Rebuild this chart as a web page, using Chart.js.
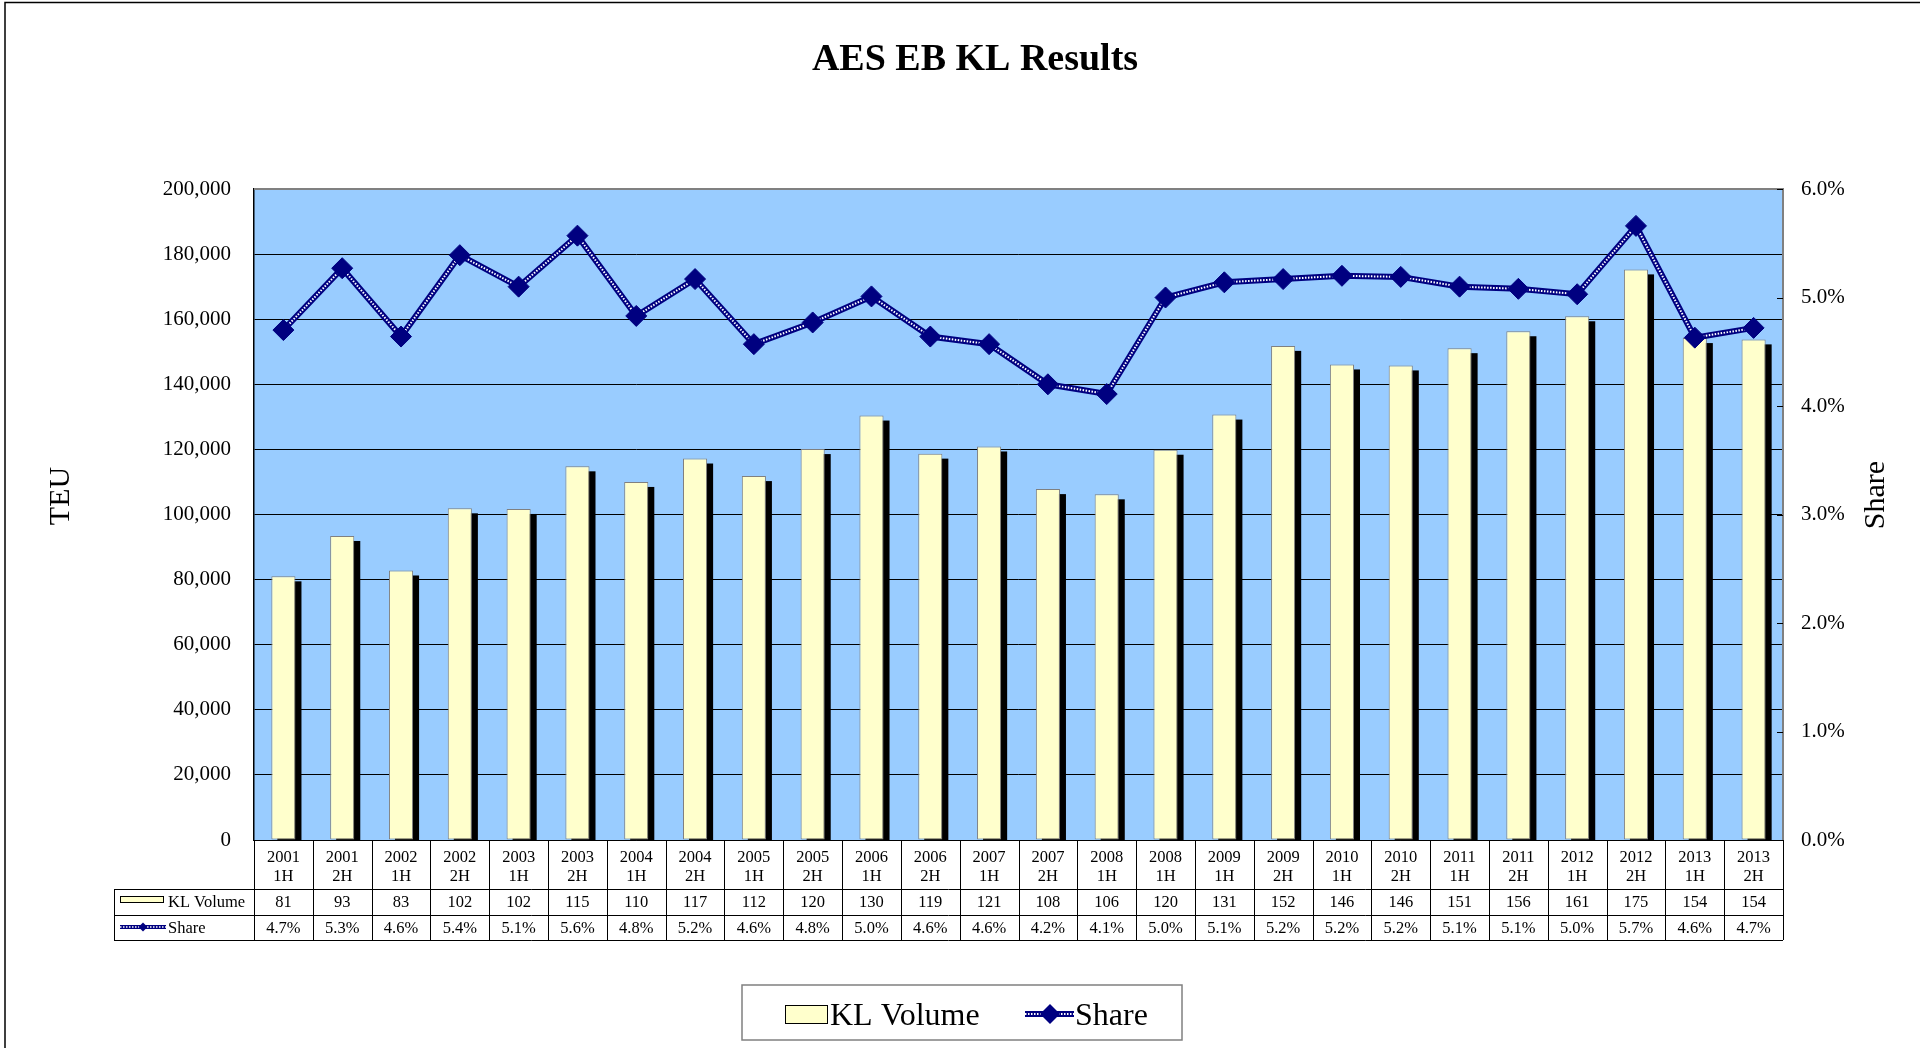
<!DOCTYPE html>
<html>
<head>
<meta charset="utf-8">
<title>AES EB KL Results</title>
<script src="https://cdn.jsdelivr.net/npm/chart.js@4.4.1/dist/chart.umd.min.js"></script>
<style>
  html, body { margin: 0; padding: 0; background: #fff; }
  #wrap { width: 1920px; height: 1048px; }
</style>
</head>
<body>
<div id="wrap"><canvas id="klChart" width="1920" height="1048"></canvas></div>
<script>
// half-year periods, exactly as printed in the data table
const periods = [
  ["2001", "1H"], ["2001", "2H"], ["2002", "1H"], ["2002", "2H"],
  ["2003", "1H"], ["2003", "2H"], ["2004", "1H"], ["2004", "2H"],
  ["2005", "1H"], ["2005", "2H"], ["2006", "1H"], ["2006", "2H"],
  ["2007", "1H"], ["2007", "2H"], ["2008", "1H"], ["2008", "1H"],
  ["2009", "1H"], ["2009", "2H"], ["2010", "1H"], ["2010", "2H"],
  ["2011", "1H"], ["2011", "2H"], ["2012", "1H"], ["2012", "2H"],
  ["2013", "1H"], ["2013", "2H"]
];

// KL volume in TEU (table shows thousands)
const klVolume = [
  81000, 93400, 82800, 101900, 101700, 114800, 110000, 117200, 111800, 120100,
  130400, 118700, 120900, 107800, 106200, 119900, 130700, 151800, 146100, 145800,
  151100, 156300, 160900, 175300, 154200, 153800
];

// share in percent (table shows one decimal)
const share = [
  4.70, 5.27, 4.64, 5.39, 5.10, 5.57, 4.83, 5.17, 4.57, 4.77,
  5.01, 4.64, 4.57, 4.20, 4.11, 5.00, 5.14, 5.17, 5.20, 5.19,
  5.10, 5.08, 5.03, 5.66, 4.63, 4.72
];

// axis ranges
const volumeAxis = { min: 0, max: 200000, step: 20000 };
const shareAxis = { min: 0, max: 6, step: 1 };

const FONT = "'Liberation Serif', 'Times New Roman', serif";
const NAVY = "#000080";
const CREAM = "#FFFFCC";

// navy line with white dots through it, like the Excel patterned line
function patternLine(ctx, x1, y1, x2, y2, w) {
  ctx.save();
  ctx.lineCap = "butt";
  ctx.strokeStyle = NAVY;
  ctx.lineWidth = w;
  ctx.beginPath(); ctx.moveTo(x1, y1); ctx.lineTo(x2, y2); ctx.stroke();
  ctx.strokeStyle = "#fff";
  ctx.lineWidth = Math.max(1, w / 3);
  ctx.setLineDash([1.5, 1.5]);
  ctx.beginPath(); ctx.moveTo(x1, y1); ctx.lineTo(x2, y2); ctx.stroke();
  ctx.restore();
}

function diamond(ctx, x, y, r) {
  ctx.save();
  ctx.fillStyle = NAVY;
  ctx.beginPath();
  ctx.moveTo(x - r, y); ctx.lineTo(x, y - r); ctx.lineTo(x + r, y); ctx.lineTo(x, y + r);
  ctx.closePath(); ctx.fill();
  ctx.restore();
}

const excelLook = {
  id: "excelLook",
  beforeDraw(chart) {
    const { ctx, chartArea: a } = chart;
    ctx.save();
    ctx.fillStyle = "#99CCFF";
    ctx.fillRect(a.left, a.top, a.right - a.left, a.bottom - a.top);
    ctx.restore();
  },
  beforeDatasetDraw(chart, args) {
    if (args.index !== 0) return;
    // black drop shadow behind every bar
    const { ctx, chartArea: a } = chart;
    ctx.save();
    ctx.beginPath();
    ctx.rect(a.left, a.top, a.right - a.left, a.bottom - a.top);
    ctx.clip();
    ctx.fillStyle = "#000";
    args.meta.data.forEach(bar => {
      const p = bar.getProps(["x", "y", "base", "width"], true);
      ctx.fillRect(p.x - p.width / 2 + 6, p.y + 5, p.width, p.base - p.y);
    });
    ctx.restore();
  },
  afterDatasetsDraw(chart) {
    const { ctx, chartArea: a } = chart;
    const y1 = chart.scales.y1;
    ctx.save();
    // gray top and right frame of the plot
    ctx.strokeStyle = "#808080";
    ctx.lineWidth = 2;
    ctx.beginPath();
    ctx.moveTo(a.left, a.top); ctx.lineTo(a.right, a.top); ctx.lineTo(a.right, a.bottom);
    ctx.stroke();
    // small inward ticks on the share axis
    ctx.strokeStyle = "#000";
    ctx.lineWidth = 1;
    y1.ticks.forEach(t => {
      const py = Math.round(y1.getPixelForValue(t.value)) + 0.5;
      ctx.beginPath(); ctx.moveTo(a.right - 6, py); ctx.lineTo(a.right, py); ctx.stroke();
    });
    ctx.restore();
  },
  afterDraw(chart) {
    const { ctx, chartArea: a } = chart;
    const x = chart.scales.x;
    const n = periods.length;

    ctx.save();
    // ---- chart title ----
    ctx.fillStyle = "#000";
    ctx.font = "bold 38px " + FONT;
    ctx.textAlign = "center";
    ctx.textBaseline = "alphabetic";
    ctx.fillText("AES EB KL Results", 975, 70);

    // ---- data table below the axis ----
    const rowTop = a.bottom, row1 = x.bottom, row2 = row1 + 26, row3 = row2 + 25;
    const tableLeft = 114;
    const edges = [a.left];
    for (let i = 1; i < n; i++) {
      edges.push((x.getPixelForValue(i - 1) + x.getPixelForValue(i)) / 2);
    }
    edges.push(a.right);

    ctx.strokeStyle = "#000";
    ctx.lineWidth = 1;
    const h = v => Math.round(v) + 0.5;
    ctx.beginPath();
    ctx.moveTo(a.left, h(rowTop)); ctx.lineTo(a.right, h(rowTop));
    [row1, row2, row3].forEach(r => { ctx.moveTo(tableLeft, h(r)); ctx.lineTo(a.right, h(r)); });
    edges.forEach(e => { ctx.moveTo(h(e), rowTop); ctx.lineTo(h(e), row3); });
    ctx.moveTo(h(tableLeft), row1); ctx.lineTo(h(tableLeft), row3);
    ctx.stroke();

    ctx.fillStyle = "#000";
    ctx.font = "16.5px " + FONT;
    ctx.textAlign = "center";
    ctx.textBaseline = "middle";
    for (let i = 0; i < n; i++) {
      const cx = x.getPixelForValue(i);
      ctx.fillText(String(Math.round(klVolume[i] / 1000)), cx, (row1 + row2) / 2 + 1);
      ctx.fillText(share[i].toFixed(1) + "%", cx, (row2 + row3) / 2 + 1);
    }
    // row headers with their keys
    ctx.textAlign = "left";
    ctx.fillText("KL Volume", 168, (row1 + row2) / 2 + 1);
    ctx.fillText("Share", 168, (row2 + row3) / 2 + 1);
    ctx.fillStyle = CREAM;
    ctx.fillRect(120.5, 896.5, 43, 6);
    ctx.strokeRect(120.5, 896.5, 43, 6);
    patternLine(ctx, 120, 927, 166, 927, 4);
    diamond(ctx, 143, 927, 4.5);

    // ---- axis titles ----
    ctx.fillStyle = "#000";
    ctx.font = "30px " + FONT;
    ctx.textAlign = "center";
    ctx.textBaseline = "middle";
    [[61, 496, "TEU"], [1876, 495, "Share"]].forEach(([tx, ty, txt]) => {
      ctx.save();
      ctx.translate(tx, ty);
      ctx.rotate(-Math.PI / 2);
      ctx.fillText(txt, 0, 0);
      ctx.restore();
    });

    // ---- legend ----
    ctx.strokeStyle = "#808080";
    ctx.lineWidth = 1.5;
    ctx.strokeRect(742, 985, 440, 55);
    ctx.fillStyle = CREAM;
    ctx.fillRect(785.5, 1005.5, 42, 18);
    ctx.strokeStyle = "#000";
    ctx.lineWidth = 1;
    ctx.strokeRect(785.5, 1005.5, 42, 18);
    ctx.fillStyle = "#000";
    ctx.font = "32px " + FONT;
    ctx.textAlign = "left";
    ctx.textBaseline = "alphabetic";
    ctx.fillText("KL Volume", 830, 1025);
    patternLine(ctx, 1025, 1014, 1074, 1014, 6);
    diamond(ctx, 1050, 1014, 10);
    ctx.fillStyle = "#000";
    ctx.fillText("Share", 1075, 1025);

    // ---- outer chart frame (top and left edges visible) ----
    ctx.strokeStyle = "#000";
    ctx.lineWidth = 1.5;
    ctx.beginPath();
    ctx.moveTo(5, 1048); ctx.lineTo(5, 2.5); ctx.lineTo(1920, 2.5);
    ctx.stroke();
    ctx.restore();
  }
};

const ctx = document.getElementById("klChart").getContext("2d");
new Chart(ctx, {
  data: {
    labels: periods,
    datasets: [
      {
        type: "bar",
        label: "KL Volume",
        data: klVolume,
        yAxisID: "y",
        backgroundColor: CREAM,
        borderColor: "#808080",
        borderWidth: 1,
        borderSkipped: false,
        barPercentage: 0.41,
        categoryPercentage: 1,
        order: 4
      },
      {
        type: "line",
        label: "Share",
        data: share,
        yAxisID: "y1",
        borderColor: NAVY,
        borderWidth: 6,
        pointRadius: 0,
        tension: 0,
        order: 3
      },
      {
        type: "line",
        label: "Share dots",
        data: share,
        yAxisID: "y1",
        borderColor: "#ffffff",
        borderWidth: 2,
        borderDash: [1.5, 1.5],
        pointRadius: 0,
        tension: 0,
        order: 2
      },
      {
        type: "line",
        label: "Share markers",
        data: share,
        yAxisID: "y1",
        showLine: false,
        pointStyle: "rectRot",
        pointRadius: 10.5,
        pointBackgroundColor: NAVY,
        pointBorderColor: NAVY,
        pointBorderWidth: 1,
        order: 1
      }
    ]
  },
  options: {
    responsive: false,
    animation: false,
    events: [],
    layout: { padding: { top: 189, left: 0, right: 0, bottom: 159 } },
    plugins: {
      legend: { display: false },
      tooltip: { enabled: false },
      title: { display: false }
    },
    scales: {
      x: {
        offset: true,
        grid: { display: false, drawTicks: false },
        border: { display: false },
        ticks: {
          color: "#000",
          font: { family: FONT, size: 16.5, lineHeight: 1.14 },
          padding: 8,
          autoSkip: false,
          maxRotation: 0
        },
        afterFit(scale) { scale.height = 49; }
      },
      y: {
        position: "left",
        min: volumeAxis.min,
        max: volumeAxis.max,
        grid: { color: "#000", lineWidth: 1, drawTicks: false },
        border: { display: true, color: "#000", width: 1.5 },
        ticks: {
          stepSize: volumeAxis.step,
          color: "#000",
          font: { family: FONT, size: 21 },
          padding: 23,
          callback: v => v.toLocaleString("en-US")
        },
        afterFit(scale) { scale.width = 254; }
      },
      y1: {
        position: "right",
        min: shareAxis.min,
        max: shareAxis.max,
        grid: { display: false, drawTicks: false },
        border: { display: false },
        ticks: {
          stepSize: shareAxis.step,
          color: "#000",
          font: { family: FONT, size: 21 },
          padding: 18,
          callback: v => v.toFixed(1) + "%"
        },
        afterFit(scale) { scale.width = 137; }
      }
    }
  },
  plugins: [excelLook]
});
</script>
</body>
</html>
